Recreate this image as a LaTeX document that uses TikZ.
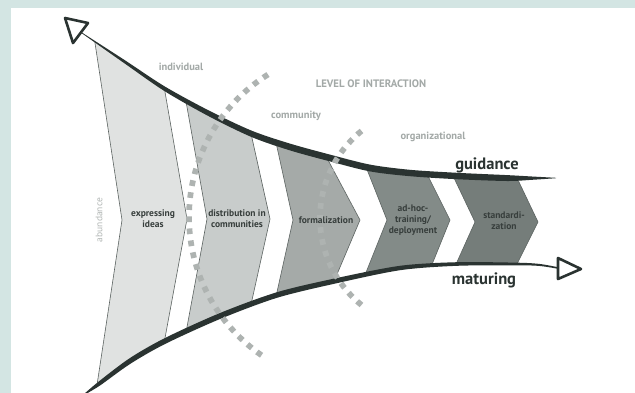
\documentclass[tikz,border=0pt]{standalone}
\usepackage{fontspec}
\setmainfont{PT Sans}
\usetikzlibrary{calc}
\definecolor{bgteal}{HTML}{D3E5E3}
\definecolor{inkc}{HTML}{2A3331}
\definecolor{lab}{HTML}{A3A9A7}
\definecolor{labl}{HTML}{B2B7B5}
\definecolor{c1}{HTML}{E0E2E1}
\definecolor{c2}{HTML}{C8CCCB}
\definecolor{c3}{HTML}{A5AAA8}
\definecolor{c4}{HTML}{838B88}
\definecolor{c5}{HTML}{757D7A}
\definecolor{edgec}{HTML}{5C6361}
\definecolor{dotc}{HTML}{AEB3B1}
\definecolor{txt}{HTML}{373E3C}
\begin{document}
\begin{tikzpicture}[x=1pt,y=-1pt,
  chevedge/.style={draw=edgec, line width=0.6pt},
  steplabel/.style={font=\bfseries\fontsize{9.5}{11}\selectfont, text=txt, align=center, inner sep=0pt},
  level/.style={font=\bfseries\fontsize{10.5}{12}\selectfont, text=lab, inner sep=0pt},
  axislabel/.style={font=\bfseries\fontsize{16.5}{18}\selectfont, text=inkc, inner sep=0pt},
  dotarc/.style={draw=dotc, line width=5.7pt, dash pattern=on 5.7pt off 6.4pt},
  arrowtri/.style={draw=inkc, fill=white, line width=2.6pt, line join=round}
]
% background
\fill[bgteal] (-10,-10) rectangle (645,402);
\fill[white] (11,8) rectangle (645,402);

% chevron corner coordinates: top-left, notch, bottom-left, bottom-right, point, top-right
\coordinate (a1) at (95,43);   \coordinate (n1) at (122,220); \coordinate (b1) at (97,385);
\coordinate (d1) at (165,338); \coordinate (p1) at (187,219); \coordinate (e1) at (165,92);
\coordinate (a2) at (187,107); \coordinate (n2) at (207,219); \coordinate (b2) at (187,327);
\coordinate (d2) at (252,300); \coordinate (p2) at (270,219); \coordinate (e2) at (252,138);
\coordinate (a3) at (277,147); \coordinate (n3) at (293,220); \coordinate (b3) at (277,292);
\coordinate (d3) at (335,279); \coordinate (p3) at (360,220); \coordinate (e3) at (328,160);
\coordinate (a4) at (368,172); \coordinate (n4) at (387,220); \coordinate (b4) at (367,270);
\coordinate (d4) at (433,262); \coordinate (p4) at (450,220); \coordinate (e4) at (430,180);
\coordinate (a5) at (455,180); \coordinate (n5) at (475,222); \coordinate (b5) at (457,262);
\coordinate (d5) at (518,262); \coordinate (p5) at (538,222); \coordinate (e5) at (518,180);

\begin{scope}
\clip (60,20) -- plot[smooth] coordinates {(82,33) (125,62) (165,89) (210,114) (252,134) (290,147) (330,158) (370,168) (410,173) (457,176) (507,178) (556,178)}
  -- (600,178) -- (600,268)
  -- plot[smooth] coordinates {(558,268) (540,265) (518,264) (457,264) (400,268) (335,281) (277,295) (220,316) (165,341) (130,361) (100,383) (86,393)}
  -- (60,400) -- cycle;
\foreach \i/\c in {1/c1,2/c2,3/c3,4/c4,5/c5}{
  \fill[\c] ($(n\i)!1.3!(a\i)$) -- (n\i) -- ($(n\i)!1.3!(b\i)$) -- ($(p\i)!1.3!(d\i)$) -- (p\i) -- ($(p\i)!1.3!(e\i)$) -- cycle;
  \draw[chevedge] ($(n\i)!1.3!(a\i)$) -- (n\i) -- ($(n\i)!1.3!(b\i)$);
  \draw[chevedge] ($(p\i)!1.3!(e\i)$) -- (p\i) -- ($(p\i)!1.3!(d\i)$);
}
\end{scope}

% guidance stroke (tapered)
\fill[inkc] plot[smooth] coordinates {(82,32.6) (125,60.3) (165,86.6) (210,111.1) (252,130.8) (290,143.6) (330,154.6) (370,164.6) (410,169.8) (457,172.8) (507,175.1) (532,176.5) (556,177.8)}
  -- plot[smooth] coordinates {(556,178.2) (532,179.8) (507,181) (457,179.2) (410,176.2) (370,171.4) (330,161.4) (290,150.4) (252,137.2) (210,116.9) (165,91.4) (125,63.7) (82,33.4)} -- cycle;
% maturing stroke (tapered)
\fill[inkc] plot[smooth] coordinates {(84,394) (100,380.5) (130,358) (165,338) (220,313) (277,292.2) (335,278.4) (400,265.8) (457,262.2) (518,262.7) (540,264) (558,267.2)}
  -- plot[smooth] coordinates {(558,268.8) (540,266) (518,265.3) (457,265.8) (400,270.2) (335,283.6) (277,297.8) (220,319) (165,344) (130,364) (100,385.5) (84,395)} -- cycle;

% open arrow heads
\draw[arrowtri] (65,18) -- (88,23) -- (73,43) -- cycle;
\draw[arrowtri] (558,258) -- (581,269) -- (558,279) -- cycle;

% dotted arcs of interaction levels
\coordinate (arcA) at (357,217);
\coordinate (arcB) at (432,218);
\draw[dotarc] (arcA) ++(238:168) arc[start angle=238, end angle=123, radius=168];
\draw[dotarc] (arcB) ++(231:112) arc[start angle=231, end angle=126, radius=112];

% labels
\node[level] (individual) at (181,67) {individual};
\node[level, font=\bfseries\fontsize{10.8}{12}\selectfont] (loi) at (371,84) {LEVEL OF INTERACTION};
\node[level] (community) at (296,116) {community};
\node[level] (organizational) at (433,137) {organizational};
\node[axislabel] (guidance) at (487,165) {guidance};
\node[axislabel] (maturing) at (484,280) {maturing};
\node[font=\fontsize{9.5}{11}\selectfont, text=labl, rotate=90, inner sep=0pt] (abundance) at (99,220) {abundance};

\node[steplabel] (s1) at (153,219) {expressing\\ideas};
\node[steplabel] (s2) at (237,219) {distribution in\\communities};
\node[steplabel] (s3) at (326,220) {formalization};
\node[steplabel] (s4) at (413,220) {ad-hoc-\\training/\\deployment};
\node[steplabel] (s5) at (504,221) {standardi-\\zation};

\pgfresetboundingbox
\useasboundingbox (0,0) rectangle (635,392);
\end{tikzpicture}
\end{document}
